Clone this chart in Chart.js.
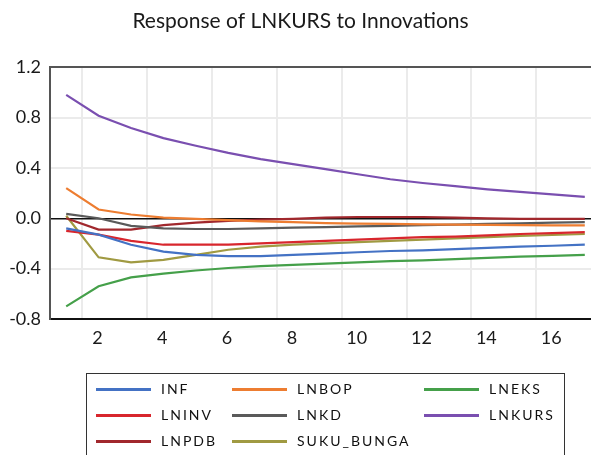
<!DOCTYPE html>
<html><head><meta charset="utf-8">
<script src="https://cdn.jsdelivr.net/npm/chart.js@4.4.1/dist/chart.umd.min.js"></script>
<style>
html,body{margin:0;padding:0;background:#fff;overflow:hidden;width:591px;height:455px;}
#wrap{position:relative;width:606px;height:455px;}
#c{position:absolute;left:0;top:0;}
#legend{position:absolute;left:86px;top:373px;width:479px;height:100px;border:1.5px solid #333;box-sizing:border-box;font-family:Lato,sans-serif;font-size:14px;letter-spacing:2px;color:#111;}
.sw{position:absolute;width:55px;height:3px;}
.lb{position:absolute;line-height:20px;white-space:nowrap;}
</style>
</head><body>
<div id="wrap"><canvas id="c" width="606" height="455"></canvas><div id="legend"></div></div>
<script>
const titleText = 'Response of LNKURS to Innovations';
const periods = [1,2,3,4,5,6,7,8,9,10,11,12,13,14,15,16,17];
const xTickLabels = ['2','4','6','8','10','12','14','16'];
const yTicks = [-0.8,-0.4,0,0.4,0.8,1.2];
const seriesNames = ['INF','LNBOP','LNEKS','LNINV','LNKD','LNKURS','LNPDB','SUKU_BUNGA'];
const seriesColors = ['#4472C4','#ED7D31','#45A04A','#D8262D','#5A5A5A','#7A4FB0','#A1282D','#A09A42'];
const inf   = [-0.08,-0.13,-0.21,-0.265,-0.29,-0.30,-0.30,-0.29,-0.28,-0.27,-0.26,-0.255,-0.245,-0.235,-0.225,-0.218,-0.21];
const lnbop = [0.24,0.07,0.03,0.005,-0.005,-0.015,-0.025,-0.03,-0.038,-0.042,-0.045,-0.048,-0.05,-0.052,-0.055,-0.056,-0.057];
const lneks = [-0.70,-0.54,-0.47,-0.44,-0.415,-0.395,-0.38,-0.37,-0.36,-0.35,-0.34,-0.335,-0.325,-0.315,-0.305,-0.298,-0.29];
const lninv = [-0.10,-0.13,-0.18,-0.21,-0.21,-0.21,-0.20,-0.19,-0.18,-0.17,-0.16,-0.15,-0.145,-0.135,-0.125,-0.118,-0.11];
const lnkd  = [0.035,0.0,-0.06,-0.08,-0.085,-0.085,-0.08,-0.075,-0.07,-0.065,-0.06,-0.055,-0.05,-0.045,-0.04,-0.035,-0.03];
const lnkurs= [0.98,0.815,0.717,0.637,0.576,0.52,0.47,0.43,0.39,0.35,0.31,0.28,0.255,0.23,0.21,0.19,0.17];
const lnpdb = [0.0,-0.09,-0.09,-0.055,-0.035,-0.02,-0.01,-0.005,0.005,0.01,0.01,0.01,0.005,0.0,-0.005,-0.005,-0.005];
const suku  = [0.02,-0.31,-0.35,-0.33,-0.29,-0.25,-0.225,-0.21,-0.2,-0.19,-0.18,-0.17,-0.16,-0.15,-0.14,-0.133,-0.125];
const seriesValues = [inf,lnbop,lneks,lninv,lnkd,lnkurs,lnpdb,suku];

const FONT = 'Lato';
const datasets = seriesNames.map((n,i)=>({
  label:n,
  data: periods.map((p,j)=>({x:p,y:seriesValues[i][j]})),
  borderColor: seriesColors[i], backgroundColor: seriesColors[i],
  borderWidth:2.2, pointRadius:0, tension:0, fill:false
}));

new Chart(document.getElementById('c'), {
  type:'line',
  data:{datasets},
  options:{
    responsive:false, animation:false,
    layout:{padding:{top:0,right:5,bottom:106,left:0}},
    plugins:{
      legend:{display:false}, tooltip:{enabled:false},
      title:{display:true,text:titleText,color:'#1a1a1a',font:{family:FONT,size:21,weight:'normal'},padding:{top:9,bottom:33}}
    },
    scales:{
      x:{type:'linear',min:0.5,max:17.5,
        afterBuildTicks:s=>{s.ticks = xTickLabels.map(l=>({value:Number(l)-0.5}));},
        ticks:{callback:(v,i)=>xTickLabels[i],labelOffset:15,padding:8,autoSkip:false,maxRotation:0,color:'#1a1a1a',font:{family:FONT,size:18}},
        grid:{color:'#ebebeb',lineWidth:2,drawTicks:false},
        border:{color:'#111',width:2},
        afterFit:s=>{s.height=30;}
      },
      y:{min:-0.8,max:1.2,
        afterBuildTicks:s=>{s.ticks = yTicks.map(v=>({value:v}));},
        ticks:{callback:v=>Number(v).toFixed(1),padding:9,color:'#1a1a1a',font:{family:FONT,size:18}},
        grid:{color:c=>c.tick.value===0?'#111':(c.tick.value===1.2?'#555':'#ebebeb'),lineWidth:c=>c.tick.value===0?1.5:2,drawTicks:false},
        border:{color:'#555',width:2},
        afterFit:s=>{s.width=50;}
      }
    }
  }
});

const lg = document.getElementById('legend');
const colLine=[9,145,337], colText=[74,210,402], rowY=[15,41,67];
datasets.forEach((d,i)=>{
  const c=i%3, r=Math.floor(i/3);
  const sw=document.createElement('div'); sw.className='sw';
  sw.style.left=colLine[c]+'px'; sw.style.top=(rowY[r]-1.5)+'px'; sw.style.background=d.borderColor;
  const lb=document.createElement('div'); lb.className='lb';
  lb.style.left=colText[c]+'px'; lb.style.top=(rowY[r]-10)+'px'; lb.textContent=d.label;
  lg.appendChild(sw); lg.appendChild(lb);
});
</script>
</body></html>
